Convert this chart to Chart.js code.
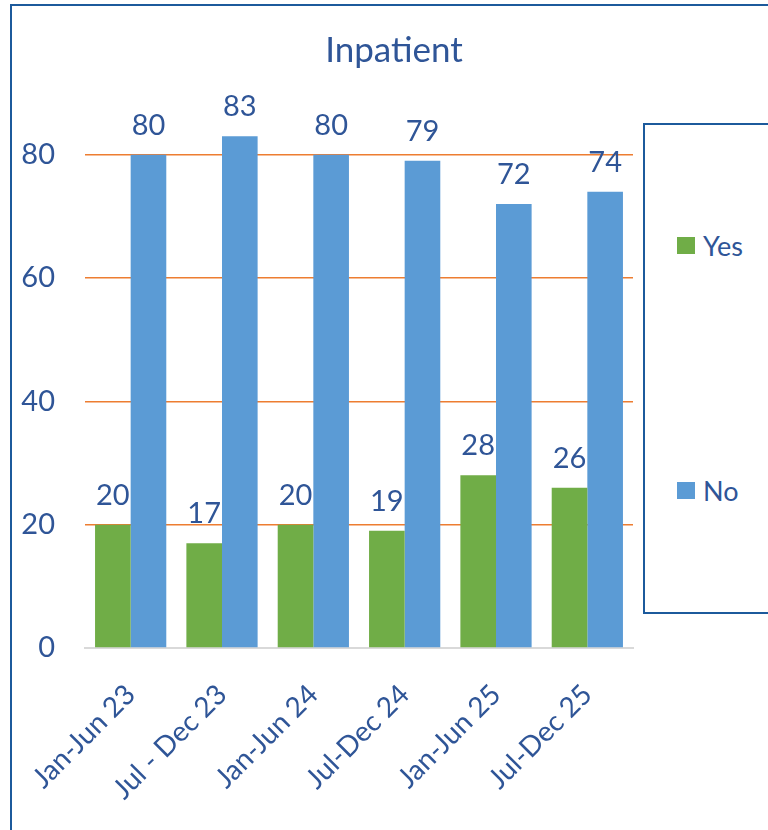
<!DOCTYPE html>
<html>
<head>
<meta charset="utf-8">
<script src="https://cdn.jsdelivr.net/npm/chart.js@4.4.1/dist/chart.umd.min.js"></script>
<style>
  html, body { margin: 0; padding: 0; width: 768px; height: 830px; overflow: hidden; background: #fff; }
  #frame { position: absolute; left: 10px; top: 4px; width: 900px; height: 900px; border: 2.5px solid #1c5a9c; box-sizing: border-box; }
  #wrap { position: absolute; left: 0; top: 0; width: 768px; height: 830px; }
  #title { position: absolute; left: 0; width: 788px; top: 27px; text-align: center; font-family: Lato, sans-serif; font-size: 35px; color: #2f5597; }
  #legend { position: absolute; left: 643px; top: 123px; width: 200px; height: 491px; border: 2.5px solid #1c5a9c; box-sizing: border-box; background: #fff; }
  .item { position: absolute; left: 32px; font-family: Lato, sans-serif; font-size: 27px; color: #2f5597; display: flex; align-items: center; height: 30px; }
  .sw { width: 18px; height: 17px; margin-right: 8px; }
</style>
</head>
<body>
<div id="frame"></div>
<div id="wrap"><canvas id="c" width="768" height="830"></canvas></div>
<div id="title">Inpatient</div>
<div id="legend"></div>
<script>
const categories = ["Jan-Jun 23", "Jul - Dec 23", "Jan-Jun 24", "Jul-Dec 24", "Jan-Jun 25", "Jul-Dec 25"];
const yesValues = [20, 17, 20, 19, 28, 26];
const noValues = [80, 83, 80, 79, 72, 74];
const seriesNames = ["Yes", "No"];
const seriesColors = ["#70ad47", "#5b9bd5"];
const yTicks = [0, 20, 40, 60, 80];

const textColor = "#2f5597";

const dataLabels = {
  id: "dataLabels",
  afterDatasetsDraw(chart) {
    const ctx = chart.ctx;
    ctx.save();
    ctx.font = "29px Lato, sans-serif";
    ctx.fillStyle = textColor;
    ctx.textAlign = "center";
    ctx.textBaseline = "alphabetic";
    chart.data.datasets.forEach((ds, i) => {
      const meta = chart.getDatasetMeta(i);
      meta.data.forEach((el, j) => {
        ctx.fillText(String(ds.data[j]), el.x, el.y - 20);
      });
    });
    ctx.restore();
  }
};

const chart = new Chart(document.getElementById("c"), {
  type: "bar",
  data: {
    labels: categories,
    datasets: [
      { label: seriesNames[0], data: yesValues, backgroundColor: seriesColors[0] },
      { label: seriesNames[1], data: noValues, backgroundColor: seriesColors[1] }
    ]
  },
  options: {
    responsive: false,
    animation: false,
    layout: { padding: { top: 93, right: 135, left: 0, bottom: 0 } },
    datasets: { bar: { categoryPercentage: 0.78, barPercentage: 1.0 } },
    plugins: { legend: { display: false }, title: { display: false }, tooltip: { enabled: false } },
    scales: {
      x: {
        grid: { display: false },
        border: { display: true, color: "#d9d9d9", width: 2 },
        ticks: {
          color: textColor,
          font: { family: "Lato, sans-serif", size: 28 },
          maxRotation: 45, minRotation: 45,
          padding: 22
        },
        afterFit(scale) { scale.height = 182; }
      },
      y: {
        min: 0, max: 90,
        afterBuildTicks(scale) { scale.ticks = yTicks.map(v => ({ value: v })); },
        grid: {
          color: (c) => (c.tick && c.tick.value === 0) ? "rgba(0,0,0,0)" : "#ed7d31",
          lineWidth: 1.5,
          drawTicks: false
        },
        border: { display: false },
        ticks: {
          color: textColor,
          font: { family: "Lato, sans-serif", size: 29 },
          padding: 30
        },
        afterFit(scale) { scale.width = 85; }
      }
    }
  },
  plugins: [dataLabels]
});

// HTML legend built from the chart's datasets
const legendEl = document.getElementById("legend");
const itemTops = [105, 350];
chart.data.datasets.forEach((ds, i) => {
  const item = document.createElement("div");
  item.className = "item";
  item.style.top = itemTops[i] + "px";
  const sw = document.createElement("span");
  sw.className = "sw";
  sw.style.background = ds.backgroundColor;
  const tx = document.createElement("span");
  tx.textContent = ds.label;
  item.appendChild(sw);
  item.appendChild(tx);
  legendEl.appendChild(item);
});
</script>
</body>
</html>
